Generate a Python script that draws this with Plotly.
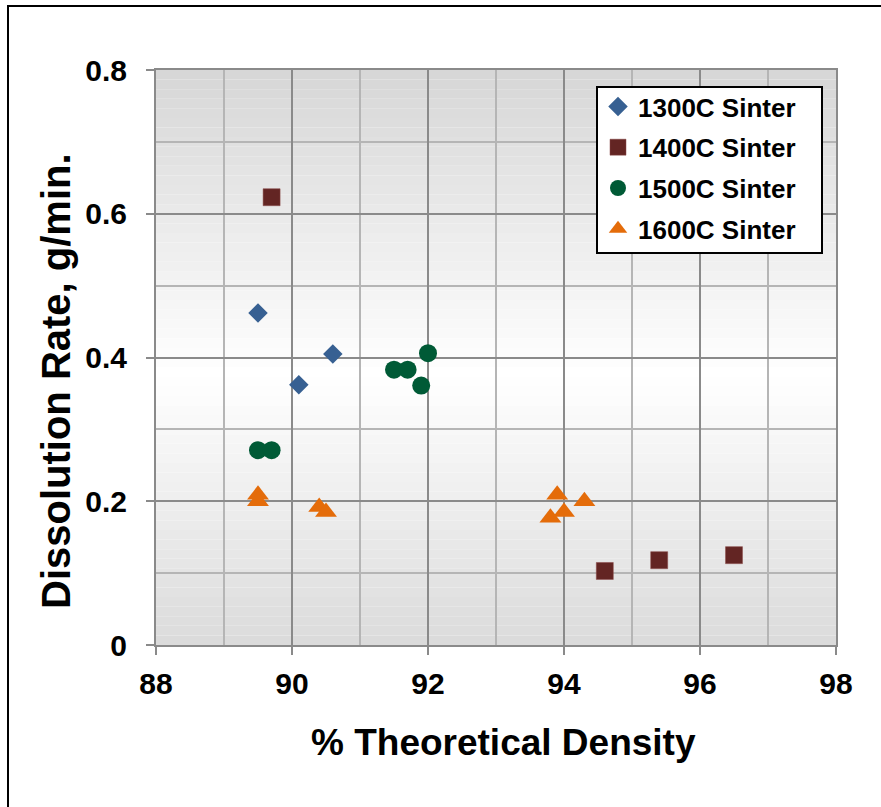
import plotly.graph_objects as go

# ---- data ----
s1300_x = [89.5, 90.1, 90.6]
s1300_y = [0.462, 0.362, 0.405]

s1400_x = [89.7, 94.6, 95.4, 96.5]
s1400_y = [0.623, 0.103, 0.118, 0.125]

s1500_x = [89.5, 89.7, 91.5, 91.7, 91.9, 92.0]
s1500_y = [0.271, 0.271, 0.383, 0.383, 0.361, 0.406]

s1600_x = [89.5, 89.5, 90.4, 90.5, 93.8, 93.9, 94.0, 94.3]
s1600_y = [0.209, 0.200, 0.192, 0.185, 0.177, 0.209, 0.185, 0.200]

x_ticks = [88, 90, 92, 94, 96, 98]
y_ticks = [0, 0.2, 0.4, 0.6, 0.8]
y_tick_labels = ["0", "0.2", "0.4", "0.6", "0.8"]

FONT = "Liberation Sans, Arial, sans-serif"

fig = go.Figure()
fig.add_trace(go.Scatter(x=s1300_x, y=s1300_y, mode="markers", name="1300C Sinter",
                         legendgroup="a",
                         marker=dict(symbol="diamond", size=15, color="#376092")))
fig.add_trace(go.Scatter(x=s1400_x, y=s1400_y, mode="markers", name="1400C Sinter",
                         legendgroup="b",
                         marker=dict(symbol="square", size=17, color="#632523",
                                     line=dict(color="#8a4a48", width=0.5))))
fig.add_trace(go.Scatter(x=s1500_x, y=s1500_y, mode="markers", name="1500C Sinter",
                         legendgroup="c",
                         marker=dict(symbol="circle", size=18, color="#005a36")))
fig.add_trace(go.Scatter(x=s1600_x, y=s1600_y, mode="markers", name="1600C Sinter",
                         legendgroup="d",
                         marker=dict(symbol="triangle-up", size=19, color="#e46c0a")))

# gradient background for plot area (gray -> white -> gray)
shapes = []
n = 60
for i in range(n):
    y0 = i / n
    y1 = (i + 1) / n
    mid = (y0 + y1) / 2
    t = abs(mid - 0.47) / 0.53
    v = int(round(255 - min(t, 1) * (255 - 214)))
    shapes.append(dict(type="rect", xref="paper", yref="paper", x0=0, x1=1, y0=y0, y1=y1,
                       fillcolor=f"rgb({v},{v},{v})", line=dict(width=0), layer="below"))

L, T = 156, 70
W, H = 680, 575
def px_to_paper_x(px):
    return (px - L) / W
def px_to_paper_y(py):
    return (T + H - py) / H

# outer border (only left/top visible in the reference)
shapes.append(dict(type="rect", xref="paper", yref="paper",
                   x0=px_to_paper_x(8), x1=px_to_paper_x(900),
                   y0=px_to_paper_y(830), y1=px_to_paper_y(6),
                   line=dict(color="black", width=2), fillcolor="rgba(0,0,0,0)", layer="above"))
# legend box
shapes.append(dict(type="rect", xref="paper", yref="paper",
                   x0=px_to_paper_x(597), x1=px_to_paper_x(822),
                   y0=px_to_paper_y(253), y1=px_to_paper_y(87),
                   line=dict(color="black", width=2), fillcolor="white", layer="above"))

MAJ = "#8a8a8a"
MIN = "#b5b5b5"

fig.update_layout(
    width=881, height=807,
    margin=dict(l=L, r=881 - L - W, t=T, b=807 - T - H),
    paper_bgcolor="white",
    plot_bgcolor="white",
    shapes=shapes,
    font=dict(family=FONT, color="black"),
    showlegend=True,
    legend=dict(
        x=px_to_paper_x(598), y=px_to_paper_y(83), xanchor="left", yanchor="top",
        bgcolor="rgba(0,0,0,0)", borderwidth=0,
        font=dict(family=FONT, size=26, color="black", weight="bold"),
        itemsizing="trace", traceorder="grouped", tracegroupgap=4,
    ),
    xaxis=dict(
        range=[88, 98], tickvals=x_ticks, ticktext=[str(v) for v in x_ticks],
        showgrid=True, gridcolor=MAJ, gridwidth=2,
        minor=dict(dtick=1, tick0=88, showgrid=True, gridcolor=MIN, gridwidth=1.5, ticklen=0),
        showline=True, linecolor=MAJ, linewidth=2, mirror=True,
        ticks="outside", ticklen=8, tickwidth=2, tickcolor=MAJ,
        tickfont=dict(family=FONT, size=30, color="black", weight="bold"),
        ticklabelstandoff=3,
        zeroline=False,
    ),
    yaxis=dict(
        range=[0, 0.8], tickvals=y_ticks, ticktext=y_tick_labels,
        showgrid=True, gridcolor=MAJ, gridwidth=2,
        minor=dict(dtick=0.1, tick0=0, showgrid=True, gridcolor=MIN, gridwidth=1.5, ticklen=0),
        showline=True, linecolor=MAJ, linewidth=2, mirror=True,
        ticks="outside", ticklen=8, tickwidth=2, tickcolor=MAJ,
        tickfont=dict(family=FONT, size=30, color="black", weight="bold"),
        ticklabelstandoff=13,
        zeroline=False,
    ),
    annotations=[
        dict(text="% Theoretical Density", xref="paper", yref="paper",
             x=px_to_paper_x(503), y=px_to_paper_y(742), xanchor="center", yanchor="middle",
             showarrow=False, font=dict(family=FONT, size=37, color="black", weight="bold")),
        dict(text="Dissolution Rate, g/min.", xref="paper", yref="paper",
             x=px_to_paper_x(56), y=px_to_paper_y(381), xanchor="center", yanchor="middle",
             textangle=-90,
             showarrow=False, font=dict(family=FONT, size=40, color="black", weight="bold")),
    ],
)

fig.write_html("out.html")
